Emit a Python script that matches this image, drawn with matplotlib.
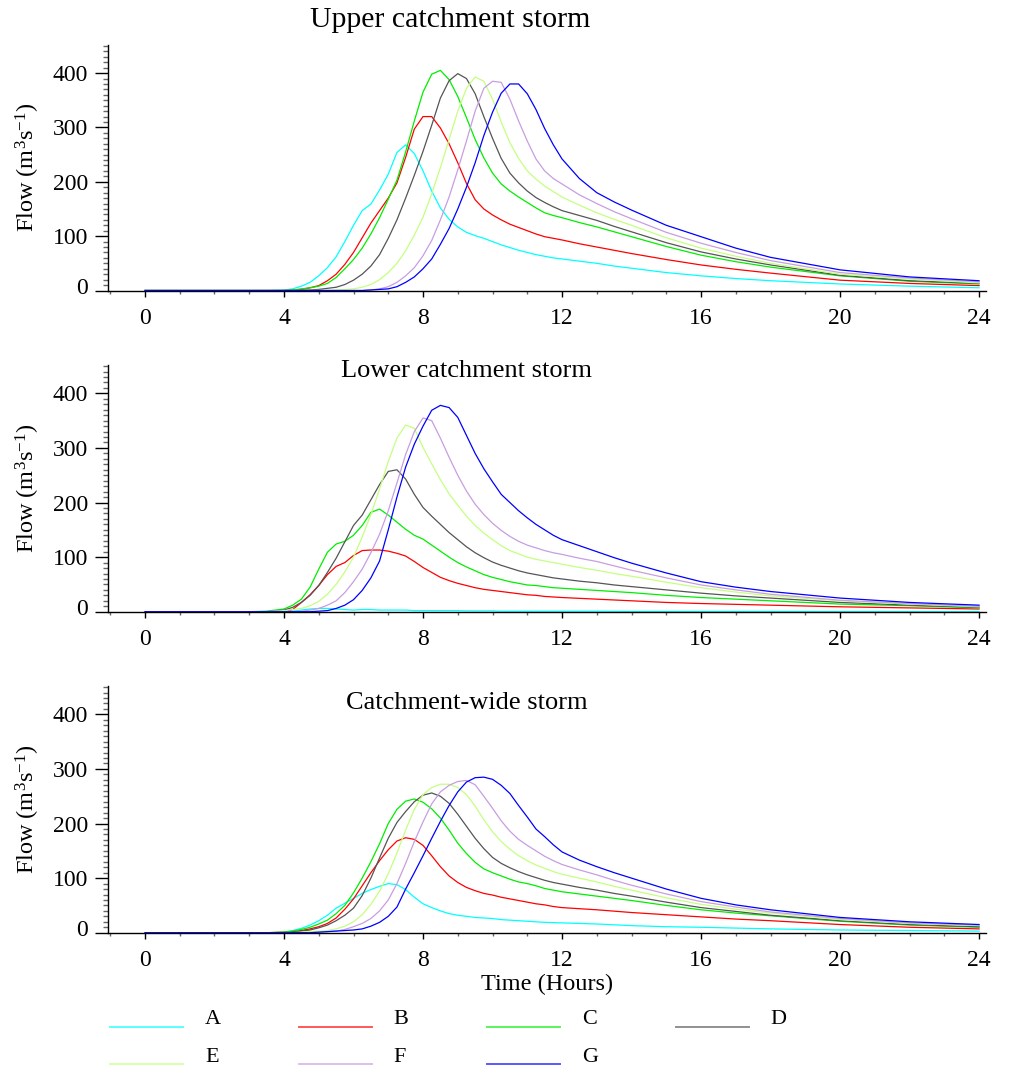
import numpy as np
import matplotlib
matplotlib.use('Agg')
import matplotlib.pyplot as plt
from matplotlib.lines import Line2D
from matplotlib.ticker import MultipleLocator
from matplotlib.transforms import ScaledTranslation

plt.rcParams['font.family'] = ['Liberation Serif', 'DejaVu Serif']
plt.rcParams['mathtext.fontset'] = 'custom'
plt.rcParams['mathtext.rm'] = 'Liberation Serif'
plt.rcParams['mathtext.it'] = 'Liberation Serif:italic'

# time axis (hours), common to every hydrograph
times = [0, 3, 3.5,
         4, 4.25, 4.5, 4.75, 5, 5.25, 5.5, 5.75, 6, 6.25, 6.5, 6.75, 7, 7.25, 7.5, 7.75,
         8, 8.25, 8.5, 8.75, 9, 9.25, 9.5, 9.75, 10, 10.25, 10.5, 10.75, 11, 11.25, 11.5, 11.75, 12,
         12.5, 13, 13.5, 14, 15, 16, 17, 18, 20, 22, 24]

labels = ['A', 'B', 'C', 'D', 'E', 'F', 'G']
colors = ['#00ffff', '#ff0000', '#00ee00', '#555555', '#c4ff80', '#c79ee0', '#0000ff']

# flows (m3/s) at each site, upper catchment storm
upper_A = [0, 0, 0,
           1, 3, 8, 15, 27, 42, 62, 90, 120, 147, 159, 185, 214, 254, 268, 252,
           220, 183, 152, 131, 117, 107, 101, 96, 90, 84, 79, 74, 70, 66, 63, 60, 58,
           54, 50, 45, 41, 33, 27, 22, 18, 12, 8, 5]
upper_B = [0, 0, 0,
           0, 1, 2, 5, 9, 18, 30, 48, 70, 97, 124, 147, 170, 198, 245, 297,
           320, 320, 299, 270, 235, 197, 167, 150, 139, 130, 122, 116, 110, 104, 99, 96, 93,
           86, 80, 74, 68, 57, 47, 39, 32, 19, 13, 9]
upper_C = [0, 0, 0,
           0, 1, 3, 5, 8, 13, 24, 40, 57, 78, 104, 134, 168, 203, 255, 312,
           365, 398, 405, 388, 357, 318, 278, 244, 216, 196, 183, 172, 162, 152, 143, 138, 134,
           125, 117, 108, 99, 81, 65, 53, 43, 27, 17, 12]
upper_D = [0, 0, 0,
           0, 0, 1, 1, 2, 4, 6, 11, 19, 30, 45, 66, 96, 130, 170, 212,
           256, 304, 354, 386, 399, 390, 362, 320, 280, 243, 216, 198, 183, 171, 162, 154, 147,
           138, 129, 118, 108, 88, 71, 58, 47, 28, 18, 13]
upper_E = [0, 0, 0,
           0, 0, 0, 0, 0, 0, 1, 2, 3, 6, 11, 20, 33, 50, 73, 102,
           135, 178, 226, 278, 330, 372, 393, 385, 352, 310, 272, 243, 220, 205, 192, 182, 172,
           157, 143, 131, 120, 97, 78, 63, 50, 30, 21, 14]
upper_F = [0, 0, 0,
           0, 0, 0, 0, 0, 0, 0, 0, 0, 0, 1, 3, 7, 15, 27, 42,
           64, 92, 130, 172, 222, 275, 330, 372, 385, 383, 352, 312, 275, 242, 220, 206, 196,
           176, 160, 145, 132, 107, 87, 70, 55, 33, 23, 16]
upper_G = [0, 0, 0,
           0, 0, 0, 0, 0, 0, 0, 0, 0, 0, 1, 2, 3, 7, 15, 25,
           40, 58, 85, 114, 150, 190, 235, 285, 328, 363, 380, 380, 362, 333, 298, 268, 242,
           206, 180, 163, 148, 120, 99, 78, 61, 38, 25, 18]

# lower catchment storm
lower_A = [0, 0, 0,
           0, 1, 3, 5, 6, 6, 5, 4, 3, 4, 4, 3, 3, 3, 3, 2,
           2, 2, 2, 2, 2, 1.5, 1.5, 1.5, 1.5, 1, 1, 1, 1, 1, 1, 1, 1,
           1, 1, 0.8, 0.5, 0.5, 0.5, 0.5, 0.5, 0.3, 0.3, 0.3]
lower_B = [0, 0, 0,
           0, 4, 17, 31, 48, 68, 83, 90, 103, 112, 113, 113, 111, 107, 102, 92,
           81, 72, 63, 57, 52, 48, 44, 41, 39, 37, 35, 33, 31, 30, 28, 27, 26,
           24.5, 23, 21.5, 20, 17, 15, 13.5, 12, 9, 7, 5]
lower_C = [0, 0, 1,
           5, 12, 23, 45, 78, 109, 124, 129, 140, 158, 182, 188, 177, 164, 151, 140,
           133, 122, 111, 100, 90, 82, 75, 68, 63, 59, 55, 52, 49, 48, 46, 44, 43,
           41, 39, 37, 35, 30, 26, 23, 20, 14, 11, 7]
lower_D = [0, 0, 0,
           3, 8, 17, 30, 48, 72, 98, 128, 158, 177, 205, 233, 257, 260, 243, 215,
           191, 175, 160, 145, 132, 119, 108, 99, 91, 85, 80, 75, 71, 68, 65, 62, 60,
           56, 53, 49, 46, 40, 34, 29, 25, 17, 12, 8]
lower_E = [0, 0, 0,
           2, 4, 6, 11, 19, 32, 50, 73, 100, 137, 178, 225, 275, 318, 342, 336,
           301, 271, 242, 216, 195, 175, 158, 144, 132, 121, 112, 106, 100, 96, 93, 90, 87,
           81, 76, 70, 65, 54, 44, 36, 29, 20, 14, 9]
lower_F = [0, 0, 0,
           0, 0, 1, 3, 6, 12, 20, 35, 55, 78, 108, 142, 185, 236, 288, 330,
           355, 350, 318, 283, 250, 221, 197, 178, 162, 149, 138, 129, 122, 117, 112, 108, 105,
           98, 92, 84, 76, 62, 49, 40, 32, 21, 15, 10]
lower_G = [0, 0, 0,
           0, 0, 0, 0, 1, 2, 6, 12, 22, 39, 62, 93, 150, 210, 265, 307,
           340, 369, 378, 374, 356, 323, 290, 262, 238, 215, 200, 185, 172, 160, 150, 140, 132,
           121, 110, 99, 89, 71, 55, 45, 37, 25, 17, 12]

# catchment-wide storm
wide_A = [0, 0, 0,
          1, 4, 8, 14, 22, 32, 45, 54, 63, 72, 79, 85, 90, 88, 79, 65,
          53, 46, 40, 35, 32, 30, 28, 27, 26, 24, 23, 22, 21, 20, 19, 18.5, 18,
          17, 16, 14.5, 13, 11, 10, 8.5, 7, 5, 4, 3]
wide_B = [0, 0, 0,
          1, 2, 4, 7, 11, 17, 27, 43, 62, 86, 110, 132, 152, 168, 174, 171,
          160, 141, 121, 104, 92, 83, 77, 72, 69, 65, 62, 59, 56, 53, 51, 48, 46,
          44, 42, 39.5, 37, 33, 29, 25, 22, 15, 10, 7]
wide_C = [0, 0, 0,
          1, 3, 6, 10, 16, 23, 35, 50, 73, 100, 130, 163, 200, 226, 241, 245,
          239, 227, 210, 188, 164, 145, 129, 117, 110, 104, 98, 93, 90, 86, 81, 78, 75,
          71, 67, 63, 59, 50, 42, 36, 31, 21, 14, 10]
wide_D = [0, 0, 0,
          0, 1, 3, 5, 9, 14, 22, 32, 45, 68, 100, 137, 173, 202, 222, 240,
          252, 256, 250, 237, 217, 195, 173, 154, 138, 127, 119, 112, 106, 101, 96, 92, 89,
          83, 78, 72, 67, 56, 46, 39, 32, 22, 15, 11]
wide_E = [0, 0, 0,
          0, 0, 1, 2, 3, 4, 7, 12, 20, 33, 52, 76, 108, 146, 188, 226,
          253, 266, 272, 272, 266, 253, 232, 207, 185, 167, 153, 141, 132, 124, 118, 112, 107,
          100, 93, 85, 78, 64, 52, 43, 36, 24, 17, 13]
wide_F = [0, 0, 0,
          0, 0, 0, 0, 1, 2, 3, 6, 11, 17, 26, 40, 60, 90, 127, 167,
          203, 236, 258, 270, 277, 279, 271, 250, 228, 205, 186, 171, 160, 150, 140, 132, 125,
          115, 106, 96, 87, 71, 57, 47, 38, 26, 18, 14]
wide_G = [0, 0, 0,
          0, 0, 0, 0, 1, 2, 3, 4, 5, 7, 12, 19, 30, 47, 80, 110,
          141, 173, 204, 233, 258, 276, 284, 285, 281, 270, 255, 233, 212, 190, 176, 161, 148,
          133, 121, 110, 100, 80, 63, 51, 42, 28, 20, 15]

panels = [
    ('Upper catchment storm', [upper_A, upper_B, upper_C, upper_D, upper_E, upper_F, upper_G]),
    ('Lower catchment storm', [lower_A, lower_B, lower_C, lower_D, lower_E, lower_F, lower_G]),
    ('Catchment-wide storm', [wide_A, wide_B, wide_C, wide_D, wide_E, wide_F, wide_G]),
]

W, H = 1014, 1070
fig = plt.figure(figsize=(W / 100, H / 100), dpi=100)

# axes boxes in figure fractions: left, bottom, width, height
boxes = [(0.107, 0.7285, 0.8654, 0.2296),
         (0.107, 0.4283, 0.8654, 0.2306),
         (0.107, 0.1283, 0.8654, 0.2306)]
titles = [(0.444, 0.981, 21.5), (0.460, 0.653, 19), (0.460, 0.343, 19)]

for i, (title, series) in enumerate(panels):
    ax = fig.add_axes(boxes[i])
    for vals, c in zip(series, colors):
        ax.plot(times, vals, color=c, lw=0.9, clip_on=False)

    ax.set_xlim(-1.05, 24.2)
    ax.set_ylim(0, 452)
    ax.spines['top'].set_visible(False)
    ax.spines['right'].set_visible(False)
    ax.spines['left'].set_linewidth(1.0)
    ax.spines['bottom'].set_linewidth(1.0)

    ax.set_xticks([0, 4, 8, 12, 16, 20, 24])
    ax.xaxis.set_minor_locator(MultipleLocator(1))
    ax.set_yticks([0, 100, 200, 300, 400])
    ax.yaxis.set_minor_locator(MultipleLocator(10))
    ax.tick_params(axis='x', which='major', direction='out', length=4.5, width=1.0,
                   pad=8, labelsize=17)
    ax.tick_params(axis='x', which='minor', direction='out', length=2.5, width=1.0,
                   color='#666666')
    ax.tick_params(axis='y', which='major', direction='out', length=9.5, width=1.0,
                   pad=5, labelsize=17)
    ax.tick_params(axis='y', which='minor', direction='out', length=3.5, width=1.0,
                   color='#666666')
    # the zero label sits a little above its tick
    zero = ax.get_yticklabels()[0]
    zero.set_transform(zero.get_transform() +
                       ScaledTranslation(0, 5 / 100, fig.dpi_scale_trans))

    ax.set_ylabel('Flow (m$^3$s$^{-1}$)', fontsize=17.5, labelpad=8)
    tx, ty, ts = titles[i]
    fig.text(tx, ty, title, fontsize=ts, ha='center', va='center')
    if i == 2:
        ax.set_xlabel('Time (Hours)', fontsize=17.5, labelpad=2)

# key below the plots: two rows, four columns, line on the text baseline
for k, (lab, c) in enumerate(zip(labels, colors)):
    row, col = divmod(k, 4)
    x0 = 110 + 188.5 * col
    y_line = 1027 + 37 * row
    fig.add_artist(Line2D([x0 / W, (x0 + 73) / W], [1 - y_line / H, 1 - y_line / H],
                          transform=fig.transFigure, color=c, lw=1.4, alpha=0.65))
    fig.text((x0 + 95) / W, 1 - (y_line - 7) / H, lab, fontsize=16,
             ha='left', va='center')

fig.savefig('out.png', dpi=100)
